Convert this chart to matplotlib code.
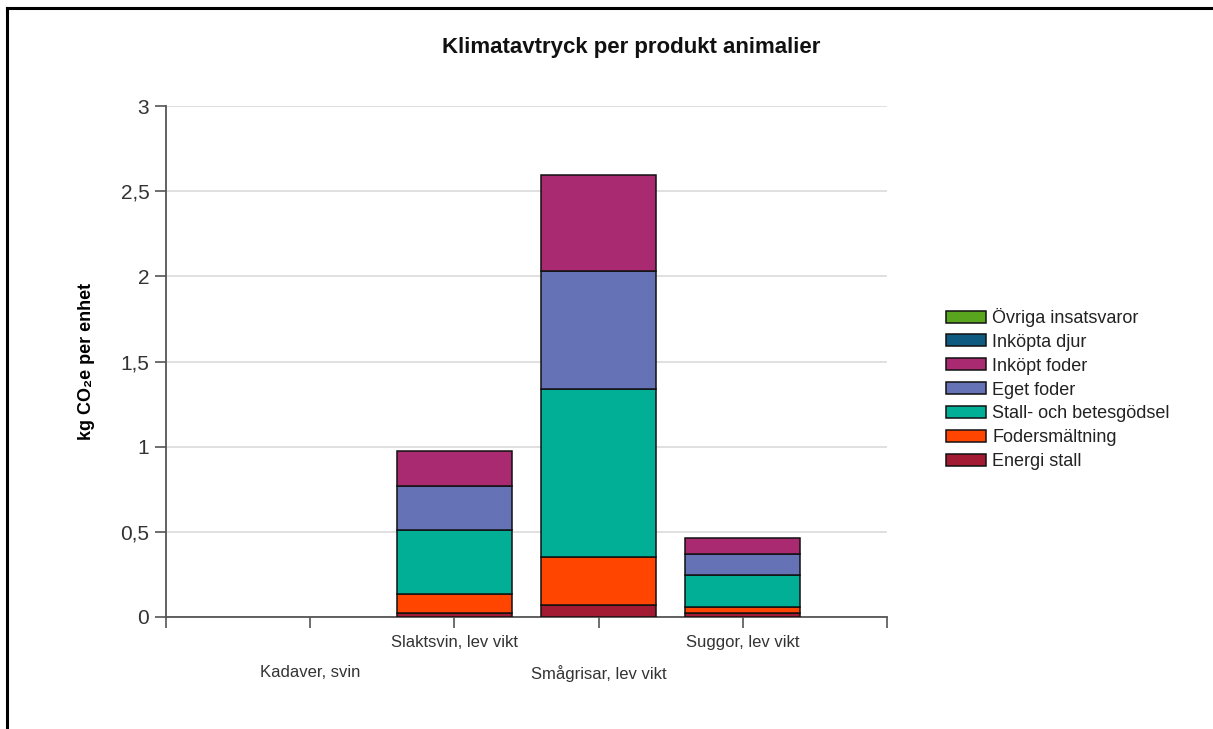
import numpy as np
import matplotlib.pyplot as plt
from matplotlib.lines import Line2D
from matplotlib.patches import Patch

plt.rcParams['font.family'] = ['Liberation Sans', 'DejaVu Sans']

# data (kg CO2e per enhet)
products = ["Kadaver, svin", "Slaktsvin, lev vikt", "Smågrisar, lev vikt", "Suggor, lev vikt"]
energi_stall = [0.0, 0.026, 0.070, 0.022]
fodersmaltning = [0.0, 0.107, 0.282, 0.039]
stall_betesgodsel = [0.0, 0.376, 0.989, 0.186]
eget_foder = [0.0, 0.260, 0.689, 0.123]
inkopt_foder = [0.0, 0.206, 0.564, 0.096]
inkopta_djur = [0.0, 0.0, 0.0, 0.0]
ovriga = [0.0, 0.0, 0.0, 0.0]

series = [
    ("Energi stall", energi_stall, "#A31A33"),
    ("Fodersmältning", fodersmaltning, "#FF4500"),
    ("Stall- och betesgödsel", stall_betesgodsel, "#00AF96"),
    ("Eget foder", eget_foder, "#6672B6"),
    ("Inköpt foder", inkopt_foder, "#A92A70"),
    ("Inköpta djur", inkopta_djur, "#0E5A80"),
    ("Övriga insatsvaror", ovriga, "#5AA51E"),
]

fig = plt.figure(figsize=(12.13, 7.29), dpi=100)
ax = fig.add_axes([166 / 1213, 1 - 617 / 729, (887 - 166) / 1213, (617 - 106) / 729])

x = np.arange(len(products))
bottom = np.zeros(len(products))
for name, vals, col in series:
    vals = np.array(vals)
    draw = vals > 0
    ax.bar(x[draw], vals[draw], 0.8, bottom=bottom[draw], color=col,
           edgecolor="#111111", linewidth=1.1, zorder=3)
    bottom += vals

ax.set_xlim(-1, 4)
ax.set_ylim(0, 3)
ax.set_yticks([0, 0.5, 1, 1.5, 2, 2.5, 3])
ax.set_yticklabels(["0", "0,5", "1", "1,5", "2", "2,5", "3"])
ax.set_xticks([-1, 0, 1, 2, 3, 4])
ax.set_xticklabels([""] + products + [""])
ax.tick_params(axis="y", length=8, width=1.2, color="#555555", pad=4,
               labelsize=15, labelcolor="#333333")
ax.tick_params(axis="x", length=8, width=1.2, color="#555555", pad=5,
               labelsize=12, labelcolor="#333333")
labels = ax.get_xticklabels()
for i in (1, 3):
    labels[i].set_y(-0.058)

ax.grid(axis="y", color="#dddddd", linewidth=1.3, zorder=0)
for s in ("top", "right"):
    ax.spines[s].set_visible(False)
ax.spines["left"].set_color("#555555")
ax.spines["bottom"].set_color("#555555")
ax.spines["left"].set_linewidth(1.3)
ax.spines["bottom"].set_linewidth(1.3)

ax.set_ylabel("kg CO₂e per enhet", fontsize=13, fontweight="bold", labelpad=18)
fig.text(631 / 1213, 1 - 47 / 729, "Klimatavtryck per produkt animalier",
         ha="center", va="center", fontsize=16, fontweight="bold", color="#111111")

handles = [Patch(facecolor=col, edgecolor="#111111", linewidth=1.1, label=name)
           for name, vals, col in series[::-1]]
fig.legend(handles=handles, loc="center left", bbox_to_anchor=(930 / 1213, 1 - 389 / 729),
           frameon=False, fontsize=13, handlelength=2.2, handleheight=0.65,
           labelspacing=0.38, handletextpad=0.35, labelcolor="#222222")

# outer frame (top and left edge)
fig.add_artist(Line2D([7 / 1213, 1211 / 1213], [1 - 8 / 729, 1 - 8 / 729],
                      transform=fig.transFigure, color="black", linewidth=2.2))
fig.add_artist(Line2D([7 / 1213, 7 / 1213], [1 - 8 / 729, 0],
                      transform=fig.transFigure, color="black", linewidth=2.2))

fig.savefig("out.png", dpi=100)
